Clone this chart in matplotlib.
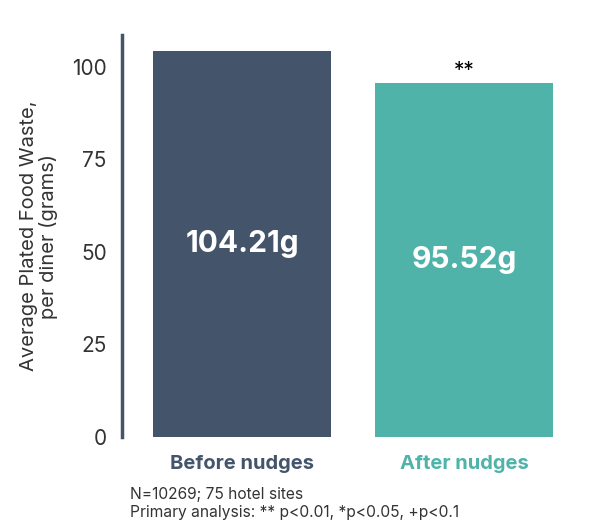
import matplotlib.pyplot as plt

SLATE = "#44546a"
TEAL = "#4fb3a9"
INK = "#333333"

groups = ["Before nudges", "After nudges"]
waste = [104.21, 95.52]
bar_labels = ["104.21g", "95.52g"]
significance = ["", "**"]
yticks = [0, 25, 50, 75, 100]
colors = [SLATE, TEAL]

plt.rcParams["font.family"] = ["Inter", "DejaVu Sans"]

fig = plt.figure(figsize=(5.93, 5.23), dpi=100)
ax = fig.add_axes([0.2057, 0.1644, 0.7723, 0.7686])

x = list(range(len(groups)))
ax.bar(x, waste, width=0.8, color=colors, zorder=2)

for xi, v, lab, sig in zip(x, waste, bar_labels, significance):
    ax.text(xi, v / 2, lab, ha="center", va="center", color="white",
            fontsize=21.5, fontweight="bold")
    if sig:
        ax.text(xi, v + 3.5, sig, ha="center", va="center", color="black", fontsize=15)

ax.set_xlim(-0.54, 1.52)
ax.set_ylim(0, 108.6)
ax.set_yticks(yticks)
ax.set_yticklabels([str(t) for t in yticks], fontsize=15, color=INK)
ax.tick_params(axis="y", length=0, pad=11)

ax.set_xticks(x)
ax.set_xticklabels(groups, fontsize=14.5, fontweight="bold")
for lbl, c in zip(ax.get_xticklabels(), colors):
    lbl.set_color(c)
ax.tick_params(axis="x", length=0, pad=13)

for side in ["top", "right", "bottom"]:
    ax.spines[side].set_visible(False)
ax.spines["left"].set_color(SLATE)
ax.spines["left"].set_linewidth(2.5)

ax.set_ylabel("Average Plated Food Waste,\nper diner (grams)", fontsize=14.5,
              color=INK, labelpad=10, linespacing=1.05)

fig.text(130 / 593, 1 - 494 / 523, "N=10269; 75 hotel sites", fontsize=11.2,
         color=INK, va="center")
fig.text(130 / 593, 1 - 512 / 523, "Primary analysis: ** p<0.01, *p<0.05, +p<0.1",
         fontsize=11.2, color=INK, va="center")

fig.savefig("out.png", dpi=100, facecolor="white")
